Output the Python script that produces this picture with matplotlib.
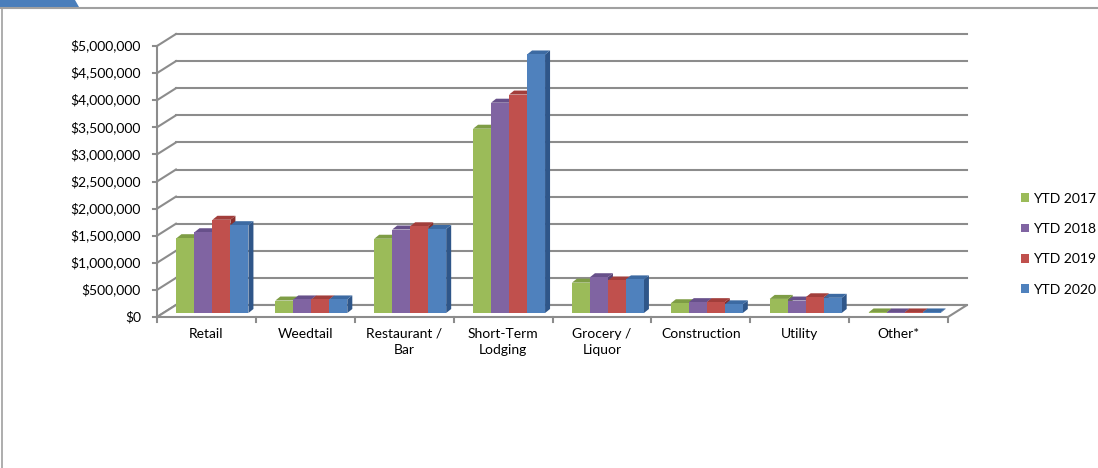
import matplotlib.pyplot as plt
from matplotlib.patches import Polygon, Patch
from matplotlib.lines import Line2D

plt.rcParams['font.family'] = ['Lato', 'DejaVu Sans']

# collections by business type, year to date
categories = ['Retail', 'Weedtail', 'Restaurant /\nBar', 'Short-Term\nLodging',
              'Grocery /\nLiquor', 'Construction', 'Utility', 'Other*']
series = ['YTD 2017', 'YTD 2018', 'YTD 2019', 'YTD 2020']
ytd_2017 = [1380000, 230000, 1370000, 3400000, 560000, 180000, 260000, 10000]
ytd_2018 = [1490000, 250000, 1540000, 3880000, 660000, 200000, 230000, 10000]
ytd_2019 = [1720000, 250000, 1600000, 4030000, 600000, 200000, 290000, 10000]
ytd_2020 = [1620000, 250000, 1550000, 4770000, 620000, 160000, 280000, 10000]
yticks = list(range(0, 5000001, 500000))

front_cols = ['#9BBB59', '#8064A2', '#C0504D', '#4F81BD']
top_cols = ['#7E9D45', '#67508A', '#A23E3B', '#3C6AA2']
side_cols = ['#6B8A38', '#584273', '#8A2F2C', '#2F5689']
grid_col = '#8C8C8C'
fsize = 10

W, H = 1098, 468
fig = plt.figure(figsize=(W / 100, H / 100), dpi=100)

# axes = plane the bar fronts stand in
ax = fig.add_axes([163 / W, 1 - 313 / H, (954 - 163) / W, (313 - 42) / H])
ax.set_xlim(-0.5, len(categories) - 0.5)
ax.set_ylim(0, 5000000)
ax.axis('off')

# pixel -> data units
pos = ax.get_position()
px_x = len(categories) / (pos.width * W)
px_y = 5000000 / (pos.height * H)
fx, fy = -6 * px_x, -4 * px_y     # front edge of the floor / value axis
bx, by = 13 * px_x, 8 * px_y      # back wall
dx, dy = 5 * px_x, 4 * px_y       # depth of one bar
x_lo, x_hi = -0.5, len(categories) - 0.5

def line(xs, ys, **kw):
    ax.add_line(Line2D(xs, ys, color=grid_col, lw=1.5, clip_on=False, zorder=1, **kw))

# back wall gridlines and left wall diagonals
for v in yticks:
    line([x_lo + bx, x_hi + bx], [v + by, v + by])
    line([x_lo + fx, x_lo + bx], [v + fy, v + by])
    line([x_lo + fx - 4 * px_x, x_lo + fx], [v + fy, v + fy])
    ax.text(x_lo + fx - 16 * px_x, v + fy, '${:,}'.format(v), ha='right', va='center',
            fontsize=fsize, color='#000000')
line([x_lo + fx, x_lo + fx], [fy, yticks[-1] + fy])

# floor
floor = Polygon([(x_lo + fx, fy), (x_hi + fx, fy), (x_hi + bx, by), (x_lo + bx, by)],
                closed=True, facecolor='white', edgecolor=grid_col, lw=1.5,
                clip_on=False, zorder=1)
ax.add_patch(floor)
for k in range(len(categories) + 1):
    line([x_lo + k + fx] * 2, [fy, fy - 5 * px_y])

# bars with top and side faces
w = 0.182
data = [ytd_2017, ytd_2018, ytd_2019, ytd_2020]
n = 0
for i in range(len(categories)):
    for j, vals in enumerate(data):
        v = vals[i]
        x0 = i - 2 * w + j * w
        z = 3 + n * 0.01
        side = Polygon([(x0 + w, 0), (x0 + w + dx, dy), (x0 + w + dx, v + dy), (x0 + w, v)],
                       closed=True, facecolor=side_cols[j], edgecolor='none',
                       clip_on=False, zorder=z)
        top = Polygon([(x0, v), (x0 + w, v), (x0 + w + dx, v + dy), (x0 + dx, v + dy)],
                      closed=True, facecolor=top_cols[j], edgecolor='none',
                      clip_on=False, zorder=z)
        ax.add_patch(side)
        ax.add_patch(top)
        ax.bar(x0, v, width=w, align='edge', color=front_cols[j], zorder=z + 0.005,
               clip_on=False)
        n += 1

for i, c in enumerate(categories):
    ax.text(i + fx, fy - 11 * px_y, c, ha='center', va='top', fontsize=fsize,
            linespacing=1.35)

handles = [Patch(facecolor=c, edgecolor='none') for c in front_cols]
fig.legend(handles, series, loc='upper left', bbox_to_anchor=(1015 / W, 1 - 187 / H),
           frameon=False, fontsize=fsize, handlelength=0.6, handleheight=0.6,
           handletextpad=0.3, labelspacing=1.32, borderaxespad=0)

# page frame: tab, top rule and left edge
fig.add_artist(Polygon([(0, 1), (75 / W, 1), (79 / W, 1 - 7 / H), (0, 1 - 7 / H)],
                       closed=True, facecolor='#4A7EBB', edgecolor='none',
                       transform=fig.transFigure))
fig.add_artist(Line2D([0, 1], [1 - 7.5 / H] * 2, color='#A0A0A0', lw=1.5,
                      transform=fig.transFigure))
fig.add_artist(Line2D([1.5 / W] * 2, [0, 1 - 7.5 / H], color='#A0A0A0', lw=1.2,
                      transform=fig.transFigure))

fig.savefig('out.png', dpi=100)
